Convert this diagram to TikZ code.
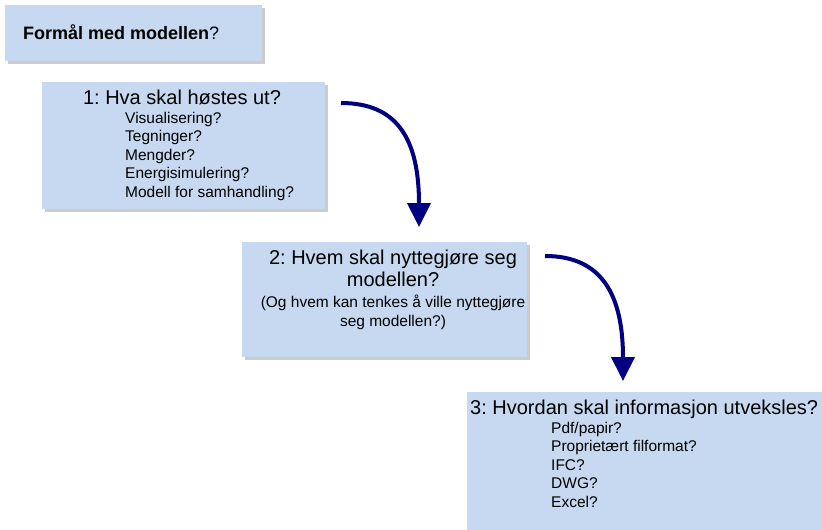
\documentclass[tikz,border=0pt]{standalone}
\usepackage{fontspec}
\setmainfont{Liberation Sans}
\usepackage{tikz}
\usetikzlibrary{shapes, arrows.meta, shadows}
\frenchspacing
\definecolor{boxblue}{RGB}{198,217,240}
\definecolor{arrowblue}{RGB}{0,0,128}
\tikzstyle{qbox} = [rectangle, fill=boxblue, anchor=north west, inner sep=0pt, drop shadow={shadow xshift=2.5pt, shadow yshift=-2.5pt, fill=black!40}]
\tikzstyle{head} = [anchor=base, inner sep=0pt, font=\fontsize{20}{24}\selectfont]
\tikzstyle{item} = [anchor=base west, inner sep=0pt, font=\fontsize{15.5}{18.5}\selectfont]
\tikzstyle{line} = [draw, line width=4pt, arrowblue, -{Triangle[width=23pt,length=24pt]}]

\begin{document}
\begin{tikzpicture}[x=1pt, y=-1pt]
			\useasboundingbox (0,0) rectangle (822,530);
			\node [qbox, minimum width=257pt, minimum height=56pt] (B0) at (5,5) {};
			\node [qbox, minimum width=283pt, minimum height=127pt] (B1) at (42,82) {};
			\node [qbox, minimum width=285pt, minimum height=115pt] (B2) at (242,242) {};
			\node [qbox, minimum width=370pt, minimum height=150pt] (B3) at (467,392) {};

			\node [anchor=base west, inner sep=0pt, font=\fontsize{18}{22}\selectfont] (title) at (23,39) {\textbf{Formål med modellen}?};

			\node [head] (h1) at (182,104) {1: Hva skal høstes ut?};
			\node [item] (v) at (125,123) {Visualisering?};
			\node [item] (t) at (125,141.5) {Tegninger?};
			\node [item] (m) at (125,160) {Mengder?};
			\node [item] (e) at (125,178.5) {Energisimulering?};
			\node [item] (s) at (125,197) {Modell for samhandling?};

			\node [head] (h2a) at (393,264) {2: Hvem skal nyttegjøre seg};
			\node [head] (h2b) at (393,286) {modellen?};
			\node [head, font=\fontsize{15.5}{18.5}\selectfont] (p2a) at (393,307) {(Og hvem kan tenkes å ville nyttegjøre};
			\node [head, font=\fontsize{15.5}{18.5}\selectfont] (p2b) at (393,326) {seg modellen?)};

			\node [anchor=base west, inner sep=0pt, font=\fontsize{20}{24}\selectfont] (h3) at (470,414) {3: Hvordan skal informasjon utveksles?};
			\node [item] (pdf) at (551,433) {Pdf/papir?};
			\node [item] (prop) at (551,451.5) {Proprietært filformat?};
			\node [item] (ifc) at (551,470) {IFC?};
			\node [item] (dwg) at (551,488.5) {DWG?};
			\node [item] (xls) at (551,507) {Excel?};

			\coordinate (a1s) at (341,103);
			\coordinate (a1e) at (419,227);
			\coordinate (a2s) at (545,256);
			\coordinate (a2e) at (623,381);

			\path [line] (a1s) .. controls (398,103) and (419,140) .. (a1e);
			\path [line] (a2s) .. controls (602,256) and (623,295) .. (a2e);
		\end{tikzpicture}
\end{document}
